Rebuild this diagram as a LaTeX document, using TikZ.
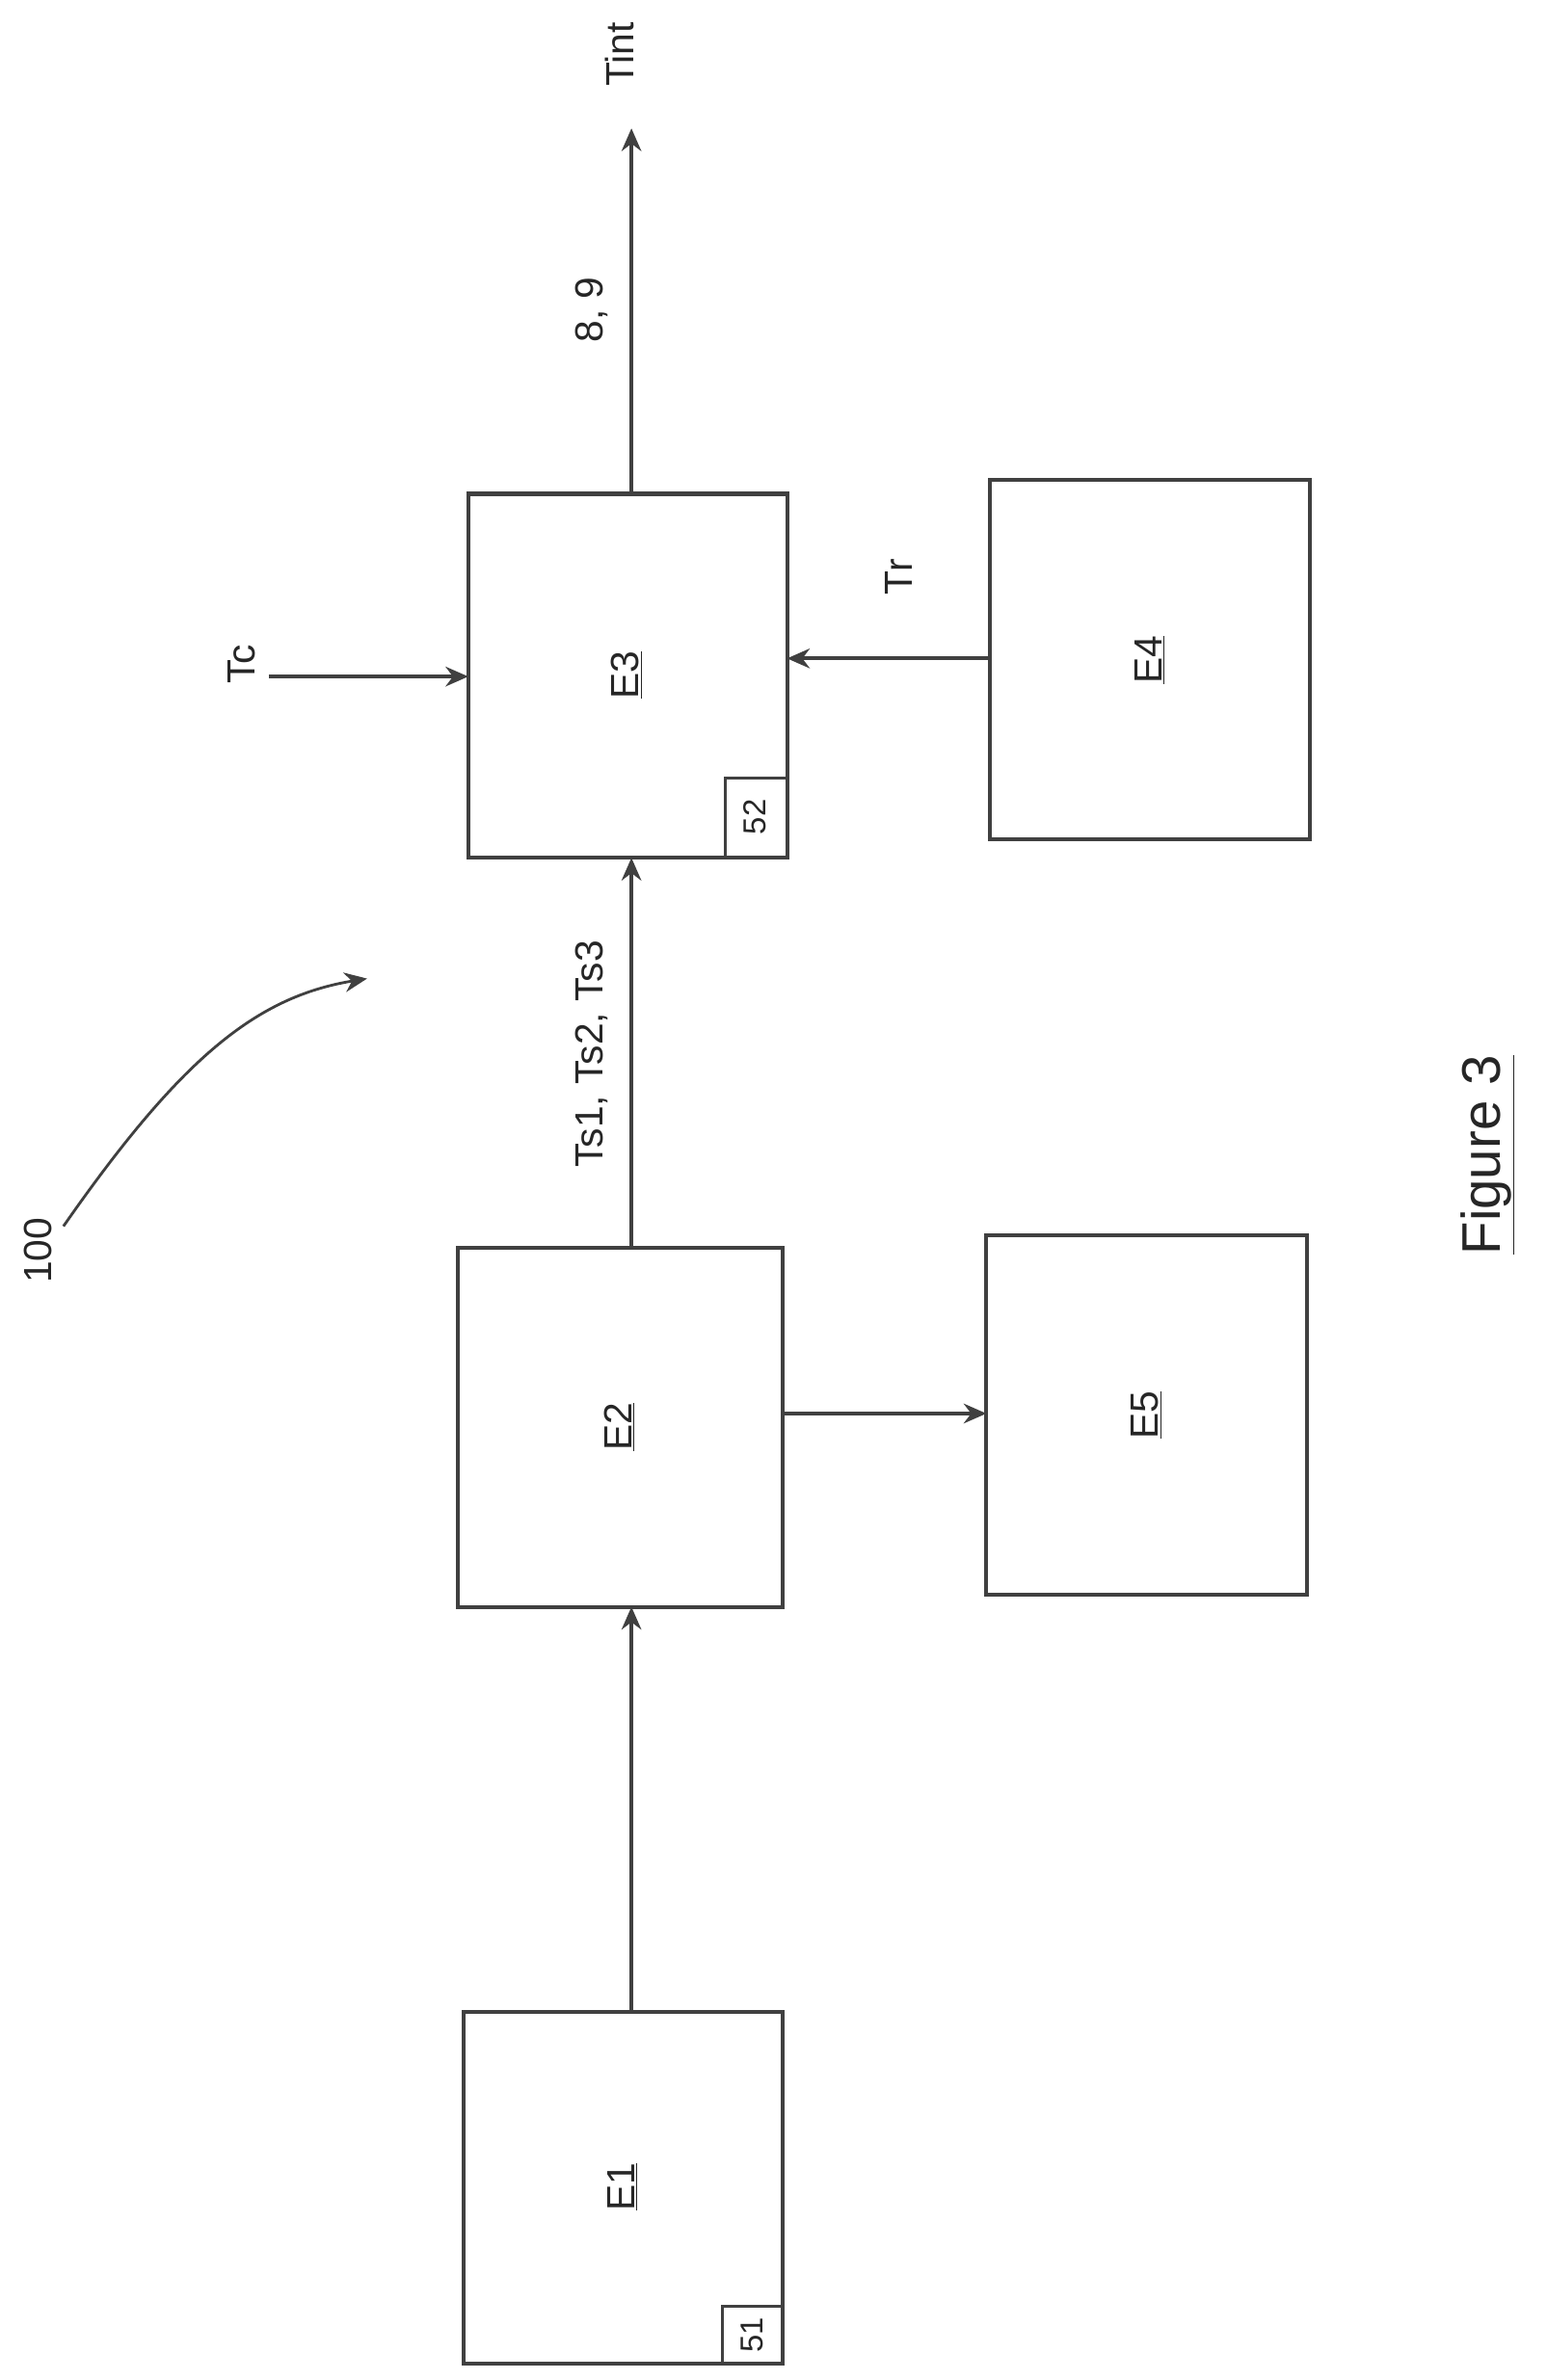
\documentclass[tikz,border=0pt]{standalone}
\usepackage{fontspec}
\setmainfont{Liberation Sans}
\usetikzlibrary{arrows.meta}
\begin{document}
\begin{tikzpicture}[x=1pt,y=-1pt,
  box/.style={draw=black!75,line width=2.6pt,inner sep=0pt},
  sm/.style={draw=black!75,line width=2pt,inner sep=0pt},
  lab/.style={rotate=90,font=\fontsize{26}{26}\selectfont,text=black!85},
  ar/.style={draw=black!75,line width=2.6pt,-{Stealth[length=15pt,width=13pt]}}]
\useasboundingbox (0,0) rectangle (1024,1576);
\draw[box] (307,1332) rectangle (518,1565);
\draw[sm] (478,1527) rectangle (518,1565);
\node[lab,font=\fontsize{21}{21}\selectfont] (n51) at (498,1546) {51};
\node[lab] (e1) at (412,1448) {\underline{E1}};
\draw[box] (303,826) rectangle (518,1064);
\node[lab] (e2) at (410,945) {\underline{E2}};
\draw[box] (653,818) rectangle (865,1056);
\node[lab] (e5) at (759,937) {\underline{E5}};
\draw[box] (310,327) rectangle (521,568);
\draw[sm] (480,515) rectangle (521,568);
\node[lab,font=\fontsize{21}{21}\selectfont] (n52) at (500,541) {52};
\node[lab] (e3) at (415,447) {\underline{E3}};
\draw[box] (655,318) rectangle (867,556);
\node[lab] (e4) at (761,437) {\underline{E4}};
\coordinate (a1) at (418,1332); \coordinate (a2) at (418,1064);
\draw[ar] (a1) -- (a2);
\coordinate (b1) at (418,826); \coordinate (b2) at (418,568);
\draw[ar] (b1) -- (b2);
\coordinate (c1) at (518,936); \coordinate (c2) at (653,936);
\draw[ar] (c1) -- (c2);
\coordinate (d1) at (178,448); \coordinate (d2) at (310,448);
\draw[ar] (d1) -- (d2);
\coordinate (f1) at (655,436); \coordinate (f2) at (521,436);
\draw[ar] (f1) -- (f2);
\coordinate (g1) at (418,327); \coordinate (g2) at (418,85);
\draw[ar] (g1) -- (g2);
\node[lab] (tint) at (410,36) {Tint};
\node[lab] (t89) at (392,205) {8, 9};
\node[lab] (ts) at (392,698) {Ts1, Ts2, Ts3};
\node[lab] (tr) at (595,382) {Tr};
\node[lab] (tc) at (160,440) {Tc};
\node[lab] (n100) at (25,828) {100};
\coordinate (h1) at (42,812); \coordinate (h2) at (243,648);
\draw[ar,line width=1.8pt] (h1) .. controls (120,700) and (170,660) .. (h2);
\node[lab,font=\fontsize{36}{36}\selectfont] (fig) at (985,765) {\underline{Figure 3}};
\end{tikzpicture}
\end{document}
